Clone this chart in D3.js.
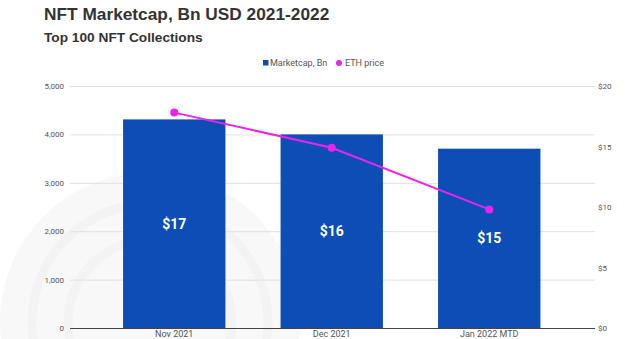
<!DOCTYPE html>
<html><head><meta charset="utf-8">
<script src="https://cdn.jsdelivr.net/npm/d3@7"></script>
<style>html,body{margin:0;padding:0;background:#fff;}svg{display:block;}</style>
</head><body>
<script>
const categories = ["Nov 2021", "Dec 2021", "Jan 2022 MTD"];
const marketcap = [4310, 4000, 3705];
const ethPrice = [17.8, 14.9, 9.8];
const barLabels = ["$17", "$16", "$15"];
const leftTicks = [0, 1000, 2000, 3000, 4000, 5000];
const rightTicks = [0, 5, 10, 15, 20];

const W = 640, H = 339;
const svg = d3.select("body").append("svg").attr("width", W).attr("height", H);

// faint watermark
const wm = svg.append("g").attr("fill", "none");
wm.append("circle").attr("cx", 150).attr("cy", 322).attr("r", 150).attr("fill", "#f8f8f8");
wm.append("circle").attr("cx", 150).attr("cy", 322).attr("r", 118).attr("stroke", "#f3f3f3").attr("stroke-width", 9);
wm.append("circle").attr("cx", 150).attr("cy", 322).attr("r", 82).attr("stroke", "#f3f3f3").attr("stroke-width", 9);

svg.append("text").attr("x", 44).attr("y", 20).text("NFT Marketcap, Bn USD 2021-2022")
  .attr("font-family", "Liberation Sans, Arial, sans-serif").attr("font-weight", "bold")
  .attr("font-size", 17.3).attr("fill", "#333");
svg.append("text").attr("x", 44).attr("y", 41.5).text("Top 100 NFT Collections")
  .attr("font-family", "Liberation Sans, Arial, sans-serif").attr("font-weight", "bold")
  .attr("font-size", 13.7).attr("fill", "#333");

const x0 = 70, x1 = 595, yTop = 86, yBot = 328;
const x = d3.scaleBand().domain(categories).range([95.5, 568]).paddingInner(0.35).paddingOuter(0.175);
const yL = d3.scaleLinear().domain([0, 5000]).range([yBot, yTop]);
const yR = d3.scaleLinear().domain([0, 20]).range([yBot, yTop]);

// gridlines
const gridAxis = d3.axisLeft(yL).tickValues(leftTicks).tickSize(-(x1 - x0)).tickFormat("");
const gg = svg.append("g").attr("transform", `translate(${x0},0)`).call(gridAxis);
gg.select(".domain").remove();
gg.selectAll(".tick line").attr("stroke", "#e0e0e0").attr("stroke-width", 1);

// left labels
const la = svg.append("g").attr("transform", `translate(${x0 - 6},0)`)
  .call(d3.axisLeft(yL).tickValues(leftTicks).tickSize(0).tickPadding(0).tickFormat(d3.format(",")));
la.select(".domain").remove();
la.selectAll("text").attr("font-family", "Roboto, Arial, sans-serif").attr("font-size", 8).attr("fill", "#555");

// right labels
const ra = svg.append("g").attr("transform", `translate(${x1 + 3},0)`)
  .call(d3.axisRight(yR).tickValues(rightTicks).tickSize(0).tickPadding(0).tickFormat(d => "$" + d));
ra.select(".domain").remove();
ra.selectAll("text").attr("font-family", "Roboto, Arial, sans-serif").attr("font-size", 8).attr("fill", "#555");

// bars
svg.append("g").selectAll("rect").data(categories).join("rect")
  .attr("x", d => x(d)).attr("width", x.bandwidth())
  .attr("y", (d, i) => yL(marketcap[i])).attr("height", (d, i) => yBot - yL(marketcap[i]))
  .attr("fill", "#0d4eb6");

// bar labels
svg.append("g").selectAll("text").data(categories).join("text")
  .attr("x", d => x(d) + x.bandwidth() / 2)
  .attr("y", (d, i) => (yL(marketcap[i]) + yBot) / 2 + 5)
  .attr("text-anchor", "middle").text((d, i) => barLabels[i])
  .attr("font-family", "Roboto, Arial, sans-serif").attr("font-weight", "bold")
  .attr("font-size", 14).attr("fill", "#fff");

// baseline
svg.append("line").attr("x1", x0).attr("x2", x1).attr("y1", yBot + 0.5).attr("y2", yBot + 0.5)
  .attr("stroke", "#444").attr("stroke-width", 1);

// x labels
const xa = svg.append("g").attr("transform", `translate(0,${yBot})`)
  .call(d3.axisBottom(x).tickSize(0).tickPadding(2.5));
xa.select(".domain").remove();
xa.selectAll("text").attr("font-family", "Roboto, Arial, sans-serif").attr("font-size", 9).attr("fill", "#555");

// line
const line = d3.line().x((d, i) => x(categories[i]) + x.bandwidth() / 2).y(d => yR(d));
svg.append("path").datum(ethPrice).attr("d", line).attr("fill", "none")
  .attr("stroke", "#ee22ee").attr("stroke-width", 2);
svg.append("g").selectAll("circle").data(ethPrice).join("circle")
  .attr("cx", (d, i) => x(categories[i]) + x.bandwidth() / 2).attr("cy", d => yR(d))
  .attr("r", 4).attr("fill", "#ee22ee");

// legend
const lg = svg.append("g").attr("font-family", "Roboto, Arial, sans-serif").attr("font-size", 9).attr("fill", "#555");
lg.append("rect").attr("x", 263).attr("y", 60).attr("width", 5.5).attr("height", 5.5).attr("fill", "#0d4eb6");
lg.append("text").attr("x", 270).attr("y", 66).text("Marketcap, Bn");
lg.append("circle").attr("cx", 339).attr("cy", 63).attr("r", 3).attr("fill", "#ee22ee");
lg.append("text").attr("x", 345).attr("y", 66).text("ETH price");
</script>
</body></html>
